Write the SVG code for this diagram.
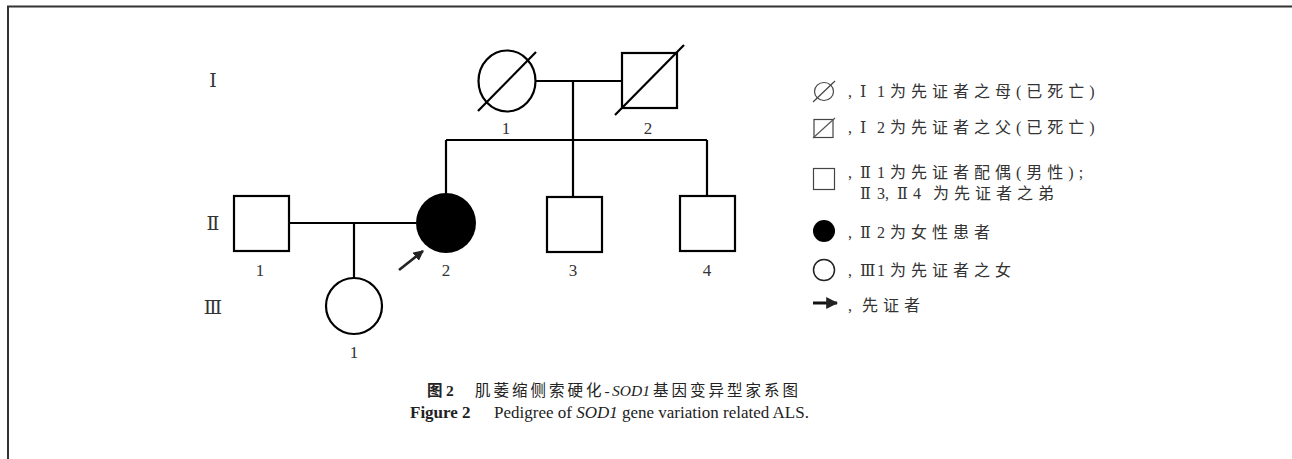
<svg xmlns="http://www.w3.org/2000/svg" width="1292" height="459" viewBox="0 0 1292 459">
  <style>
    .ln { stroke: #000; stroke-width: 2.2; fill: none; }
    .sym { stroke: #000; stroke-width: 2.2; fill: #fff; }
    .num { font-family: "Liberation Serif", "DejaVu Serif", serif; font-size: 17px; fill: #333; text-anchor: middle; }
    .gen { font-family: "Liberation Serif", "DejaVu Serif", "Noto Sans CJK SC", serif; font-size: 19px; fill: #333; text-anchor: middle; }
    .leg { font-family: "Liberation Serif", "DejaVu Serif", "Noto Sans CJK SC", serif; font-size: 16px; fill: #333; }
    .cjk { font-family: "Liberation Serif", "Noto Sans CJK SC", serif; letter-spacing: 5px; }
    .lsym { stroke: #444; stroke-width: 1.2; fill: #fff; }
    .cap { font-family: "Liberation Serif", "Noto Sans CJK SC", serif; font-size: 15.5px; fill: #222; }
    .cap2 { font-family: "Liberation Serif", serif; font-size: 17px; fill: #222; }
  </style>
  <defs>
    <marker id="ah" viewBox="0 0 10 10" refX="9" refY="5" markerWidth="4" markerHeight="4" orient="auto" markerUnits="strokeWidth">
      <path d="M0,0 L10,5 L0,10 Z" fill="#222"/>
    </marker>
  </defs>

  <!-- frame -->
  <path d="M7,6.5 H1292 M8,6.5 V459" stroke="#333" stroke-width="2" fill="none"/>

  <!-- generation labels -->
  <text class="gen" x="213" y="87">Ⅰ</text>
  <text class="gen" x="213" y="230">Ⅱ</text>
  <text class="gen" x="213" y="314">Ⅲ</text>

  <!-- connectors -->
  <g id="connectors">
    <line class="ln" x1="536" y1="81" x2="622" y2="81"/>
    <line class="ln" x1="573" y1="81" x2="573" y2="197"/>
    <line class="ln" x1="446" y1="140" x2="707" y2="140"/>
    <line class="ln" x1="446" y1="140" x2="446" y2="193"/>
    <line class="ln" x1="707" y1="140" x2="707" y2="196"/>
    <line class="ln" x1="289" y1="223" x2="416" y2="223"/>
    <line class="ln" x1="354" y1="223" x2="354" y2="278"/>
    <line x1="399" y1="270" x2="423" y2="251" stroke="#222" stroke-width="2.6" marker-end="url(#ah)"/>
  </g>

  <!-- generation I -->
  <g id="I-1">
    <ellipse class="sym" cx="507" cy="81" rx="28.5" ry="30.5"/>
    <line class="ln" x1="478" y1="111" x2="536" y2="52"/>
    <text class="num" x="506" y="134">1</text>
  </g>
  <g id="I-2">
    <rect class="sym" x="622" y="53" width="55" height="55"/>
    <line class="ln" x1="615" y1="115" x2="684" y2="45"/>
    <text class="num" x="648" y="134">2</text>
  </g>

  <!-- generation II -->
  <g id="II-1">
    <rect class="sym" x="234" y="196" width="55" height="55"/>
    <text class="num" x="260" y="276">1</text>
  </g>
  <g id="II-2">
    <circle cx="446" cy="223" r="30" fill="#000"/>
    <text class="num" x="446" y="276">2</text>
  </g>
  <g id="II-3">
    <rect class="sym" x="547" y="197" width="55" height="55"/>
    <text class="num" x="573" y="276">3</text>
  </g>
  <g id="II-4">
    <rect class="sym" x="680" y="196" width="55" height="55"/>
    <text class="num" x="707" y="276">4</text>
  </g>

  <!-- generation III -->
  <g id="III-1">
    <circle class="sym" cx="354" cy="306" r="28"/>
    <text class="num" x="354" y="358">1</text>
  </g>

  <!-- legend -->
  <g id="legend">
    <ellipse class="lsym" cx="824" cy="91.5" rx="9.5" ry="9"/>
    <line stroke="#444" stroke-width="1.2" x1="813" y1="102" x2="835" y2="81"/>
    <text class="leg" y="97"><tspan x="848">,</tspan><tspan x="860">Ⅰ</tspan><tspan x="877">1</tspan><tspan x="890" class="cjk">为先证者之母(已死亡)</tspan></text>

    <rect class="lsym" x="814" y="119.5" width="19" height="18" stroke="#666"/>
    <line stroke="#555" stroke-width="1.2" x1="813" y1="138" x2="835" y2="118"/>
    <text class="leg" y="133"><tspan x="848">,</tspan><tspan x="860">Ⅰ</tspan><tspan x="877">2</tspan><tspan x="890" class="cjk">为先证者之父(已死亡)</tspan></text>

    <rect class="lsym" x="813.5" y="168.5" width="21" height="21"/>
    <text class="leg" y="178"><tspan x="848">,</tspan><tspan x="860">Ⅱ</tspan><tspan x="877">1</tspan><tspan x="890" class="cjk">为先证者配偶(男性);</tspan></text>
    <text class="leg" y="199"><tspan x="860">Ⅱ</tspan><tspan x="877">3,</tspan><tspan x="897">Ⅱ</tspan><tspan x="913">4</tspan><tspan x="933" class="cjk">为先证者之弟</tspan></text>

    <circle cx="824" cy="231" r="11" fill="#000"/>
    <text class="leg" y="238"><tspan x="848">,</tspan><tspan x="860">Ⅱ</tspan><tspan x="877">2</tspan><tspan x="890" class="cjk">为女性患者</tspan></text>

    <circle cx="824" cy="270" r="10.5" fill="#fff" stroke="#222" stroke-width="1.5"/>
    <text class="leg" y="276"><tspan x="848">,</tspan><tspan x="860">Ⅲ</tspan><tspan x="877">1</tspan><tspan x="890" class="cjk">为先证者之女</tspan></text>

    <line x1="813" y1="303" x2="837" y2="303" stroke="#111" stroke-width="3" marker-end="url(#ah)"/>
    <text class="leg" y="311"><tspan x="848">,</tspan><tspan x="862" class="cjk">先证者</tspan></text>
  </g>

  <!-- caption -->
  <g id="caption">
    <text class="cap" y="396"><tspan x="427" font-weight="bold">图</tspan><tspan x="446" font-weight="bold">2</tspan><tspan x="475" letter-spacing="3px">肌萎缩侧索硬化-</tspan><tspan x="612" font-style="italic">SOD1</tspan><tspan x="653" letter-spacing="3px">基因变异型家系图</tspan></text>
    <text class="cap2" y="418"><tspan x="410" font-weight="bold">Figure 2</tspan><tspan x="494">Pedigree of </tspan><tspan font-style="italic">SOD1</tspan><tspan> gene variation related ALS.</tspan></text>
  </g>
</svg>
